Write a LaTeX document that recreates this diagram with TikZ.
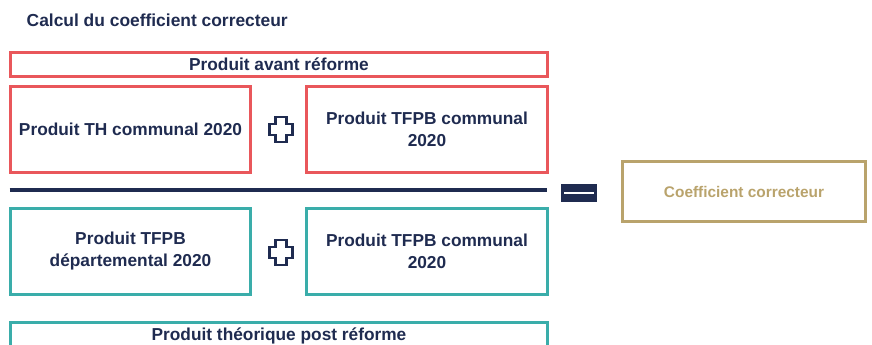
\documentclass[tikz,border=0pt]{standalone}
\usepackage{fontspec}
\setmainfont{Liberation Sans}
\definecolor{redc}{HTML}{E9575B}
\definecolor{tealc}{HTML}{3AADAA}
\definecolor{navyc}{HTML}{1F2B50}
\definecolor{goldc}{HTML}{B9A36C}
\tikzset{
  box/.style={draw, line width=3pt, inner sep=0pt, align=center, text=navyc,
    font=\fontsize{17.3}{22}\selectfont\bfseries},
  oneline/.style={text height=12.4pt, text depth=0pt},
  redbox/.style={box, draw=redc},
  tealbox/.style={box, draw=tealc},
  crossmark/.pic={
    \draw[navyc, line width=2.4pt, fill=white, line join=miter]
      (-5.5,-12.5) -- (5.5,-12.5) -- (5.5,-5.5) -- (11.5,-5.5) -- (11.5,5.5) -- (5.5,5.5) -- (5.5,12.5)
      -- (-5.5,12.5) -- (-5.5,5.5) -- (-11.5,5.5) -- (-11.5,-5.5) -- (-5.5,-5.5) -- cycle;
  }
}
\begin{document}
\begin{tikzpicture}[x=1pt,y=-1pt]
\useasboundingbox (0,0) rectangle (872,345);
\node[anchor=west, text=navyc, font=\fontsize{17.4}{20}\selectfont\bfseries, inner sep=0pt, oneline] (title) at (26.5,20) {Calcul du coefficient correcteur};
\node[redbox, oneline, minimum width=537pt, minimum height=24pt] (avant) at (279,64.5) {Produit avant réforme};
\node[redbox, oneline, minimum width=240pt, minimum height=86pt] (th) at (130.5,129.5) {Produit TH communal 2020};
\node[redbox, minimum width=241pt, minimum height=86pt] (tfpb1) at (427,129.5) {Produit TFPB communal\\2020};
\pic at (281,129.5) {crossmark};
\draw[navyc, line width=3.5pt] (9.5,190) coordinate (l1) -- (547,190) coordinate (l2);
\fill[navyc] (561,184) rectangle (597,201.5);
\draw[white, line width=2pt] (564,192.7) -- (594,192.7);
\node[box, oneline, draw=goldc, text=goldc, minimum width=243pt, minimum height=60pt,
  font=\fontsize{15.4}{18}\selectfont\bfseries, text height=11pt] (coef) at (744,191.5) {Coefficient correcteur};
\node[tealbox, minimum width=240pt, minimum height=86pt] (dep) at (130.5,251.5) {Produit TFPB\\départemental 2020};
\node[tealbox, minimum width=241pt, minimum height=86pt] (tfpb2) at (427,251.5) {Produit TFPB communal\\2020};
\pic at (281,252.5) {crossmark};
\node[tealbox, oneline, minimum width=537pt, minimum height=24pt] (post) at (279,334.5) {Produit théorique post réforme};
\end{tikzpicture}
\end{document}
